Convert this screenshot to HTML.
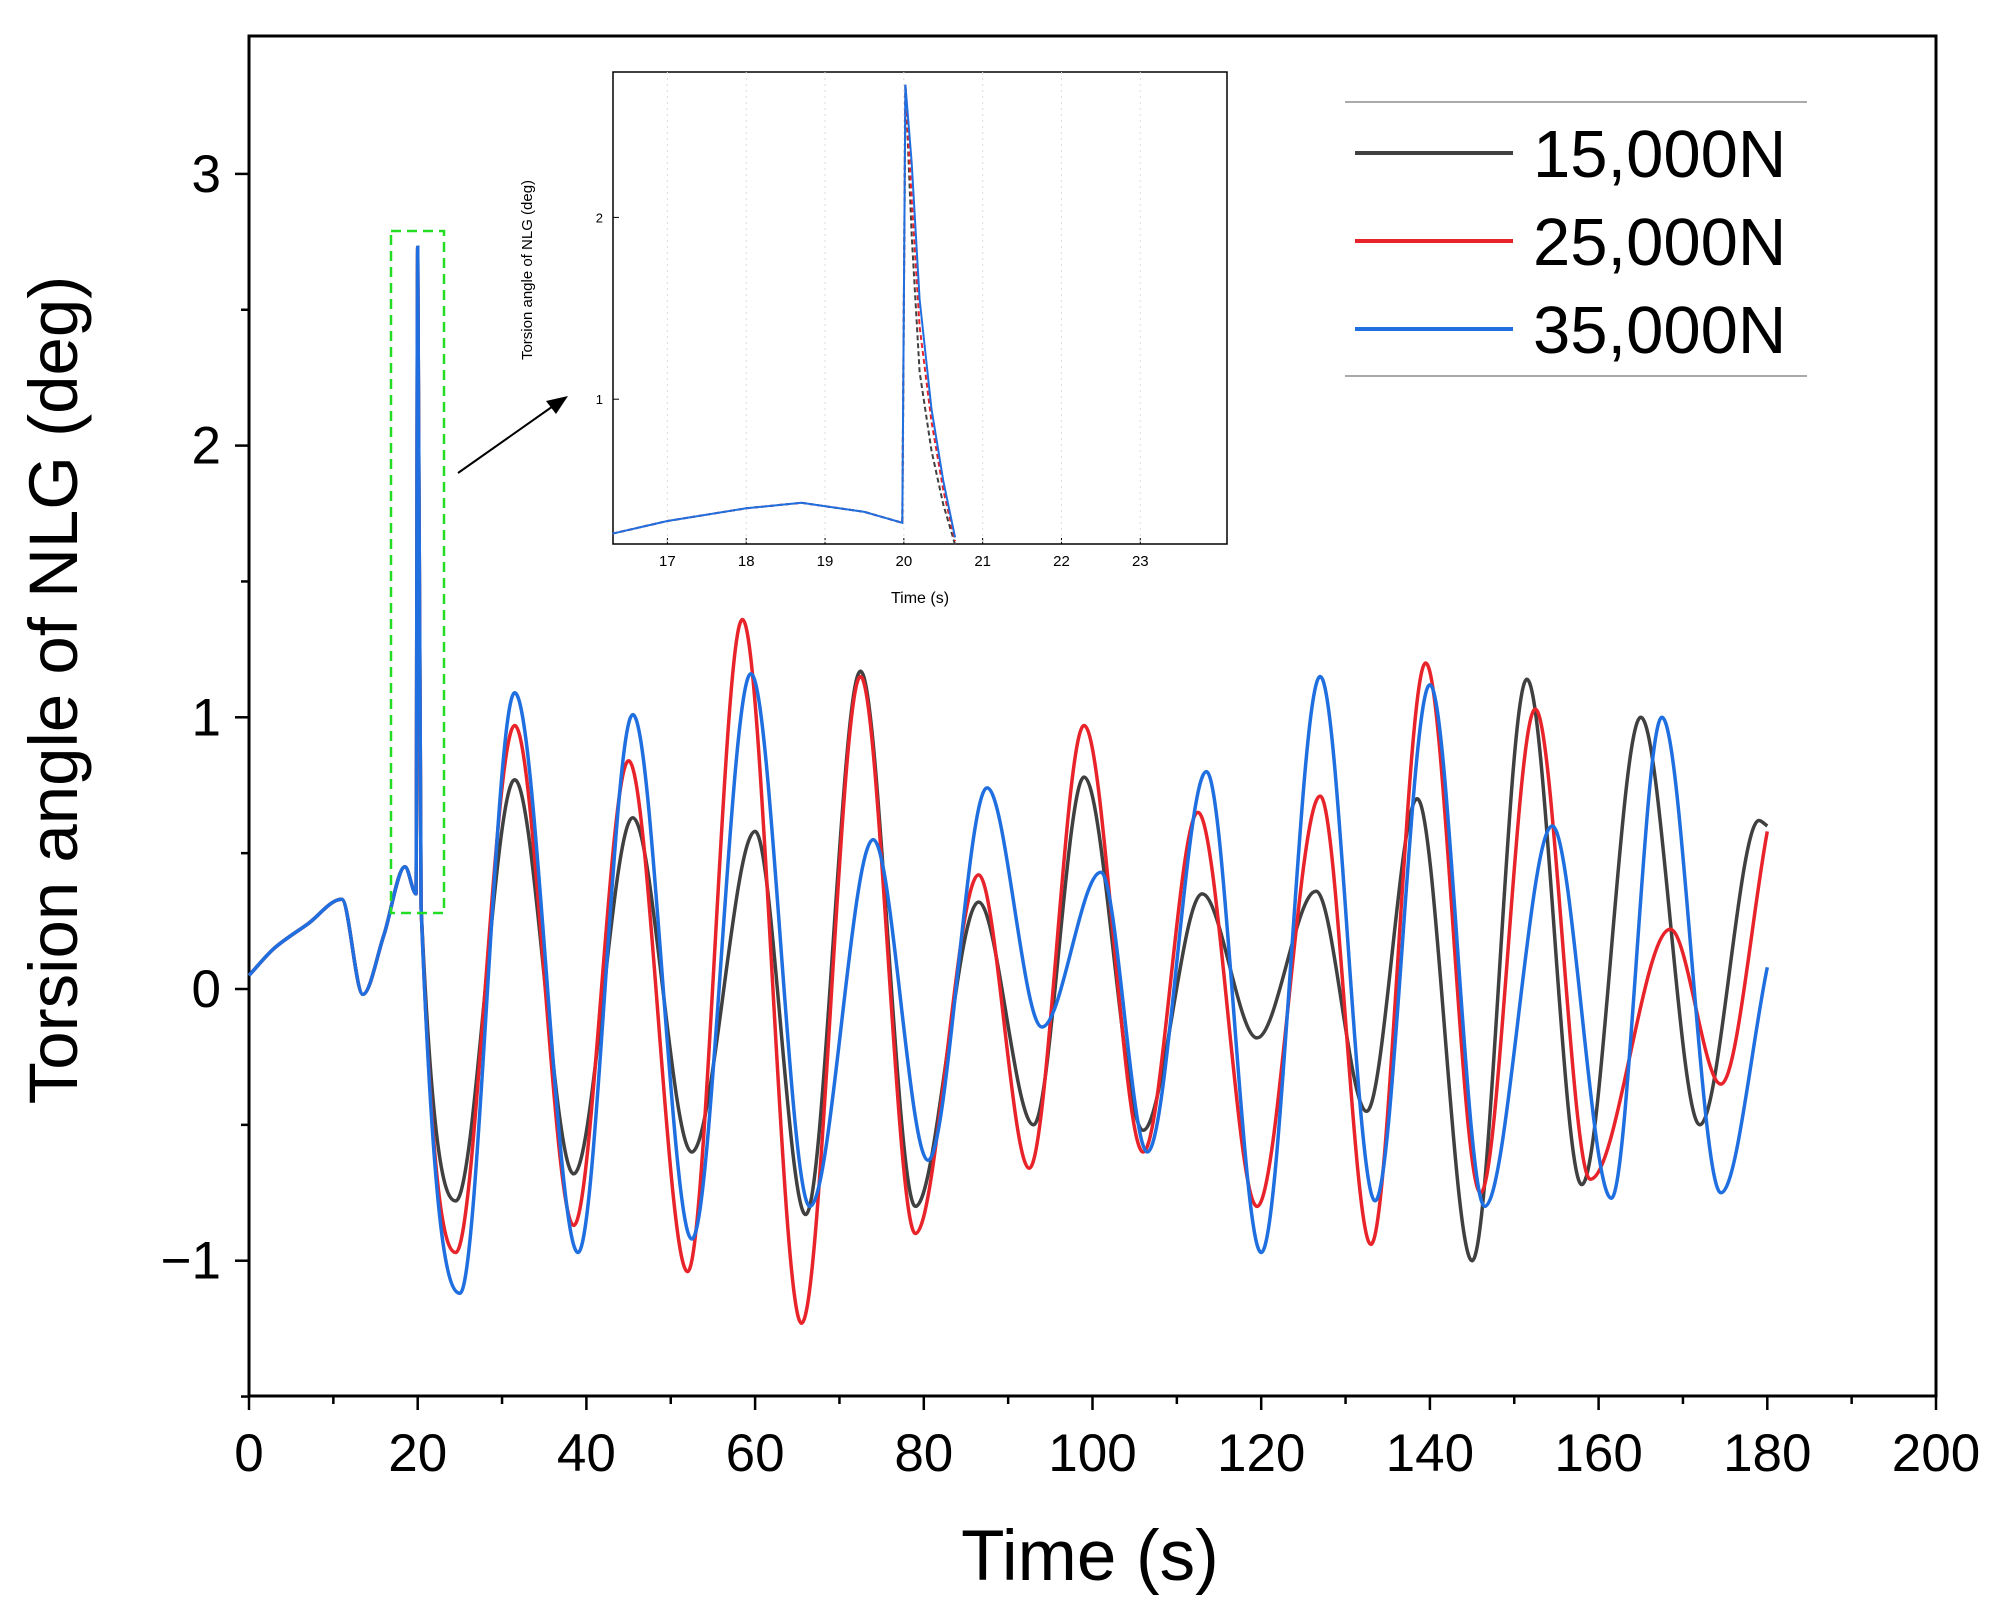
<!DOCTYPE html>
<html><head><meta charset="utf-8">
<style>html,body{margin:0;padding:0;background:#fff}svg{display:block}text{font-family:"Liberation Sans",Arial,sans-serif}</style>
</head><body>
<svg id="chart" width="1993" height="1617" viewBox="0 0 1993 1617" xmlns="http://www.w3.org/2000/svg">
<g id="main"></g>
<g id="inset"></g>
</svg>
<script>
// ---- data ----
const seriesNames = ["15,000N", "25,000N", "35,000N"];
const seriesColors = ["#404040", "#e8242a", "#1f6fe0"];
const commonT = [0, 3, 7, 11, 13.5, 16, 18.5, 19.8, 20, 20.4];
const commonV = [0.05, 0.15, 0.24, 0.33, -0.02, 0.2, 0.45, 0.35, 2.73, 0.3];
const blackT = [24.5,31.5,38.5,45.5,52.5,60,66,72.5,79,86.5,93,99,106,113,119.5,126.5,132.5,138.5,145,151.5,158,165,172,179,180];
const blackV = [-0.78,0.77,-0.68,0.63,-0.6,0.58,-0.83,1.17,-0.8,0.32,-0.5,0.78,-0.52,0.35,-0.18,0.36,-0.45,0.7,-1.0,1.14,-0.72,1.0,-0.5,0.62,0.6];
const redT = [24.5,31.5,38.5,45,52,58.5,65.5,72.5,79,86.5,92.5,99,106,112.5,119.5,127,133,139.5,146,152.5,159,168.5,174.5,180];
const redV = [-0.97,0.97,-0.87,0.84,-1.04,1.36,-1.23,1.15,-0.9,0.42,-0.66,0.97,-0.6,0.65,-0.8,0.71,-0.94,1.2,-0.75,1.03,-0.7,0.22,-0.35,0.58];
const blueT = [25,31.5,39,45.5,52.5,59.5,66.5,74,80.5,87.5,94,101,106.5,113.5,120,127,133.5,140,146.5,154.5,161.5,167.5,174.5,180];
const blueV = [-1.12,1.09,-0.97,1.01,-0.92,1.16,-0.8,0.55,-0.63,0.74,-0.14,0.43,-0.6,0.8,-0.97,1.15,-0.78,1.12,-0.8,0.6,-0.77,1.0,-0.75,0.08];
const xTicks = [0,20,40,60,80,100,120,140,160,180,200];
const yTicks = [-1,0,1,2,3];
const insetBaseT = [16.3,17,18,18.7,19.5,19.98,20.02];
const insetBaseV = [0.26,0.33,0.4,0.43,0.38,0.32,2.73];
const insetDecayT = [20.1,20.2,20.35,20.5,20.65];
const insetDecayBlack = [1.9,1.15,0.72,0.42,0.2];
const insetDecayRed = [2.1,1.4,0.88,0.5,0.22];
const insetDecayBlue = [2.3,1.55,0.95,0.55,0.24];
const insetXTicks = [17,18,19,20,21,22,23];
const insetYTicks = [1,2];

const NS="http://www.w3.org/2000/svg";
function mk(tag, parent, attrs, txt){const e=document.createElementNS(NS,tag);for(const k in attrs)e.setAttribute(k,attrs[k]);if(txt!==undefined)e.textContent=txt;parent.appendChild(e);return e;}

function monoPath(xs, ys){
  const n=xs.length; if(n<2) return "";
  const d=[],m=new Array(n);
  for(let i=0;i<n-1;i++) d.push((ys[i+1]-ys[i])/(xs[i+1]-xs[i]));
  m[0]=d[0]; m[n-1]=d[n-2];
  for(let i=1;i<n-1;i++){ if(d[i-1]*d[i]<=0) m[i]=0; else { const w1=2*(xs[i+1]-xs[i])+(xs[i]-xs[i-1]), w2=(xs[i+1]-xs[i])+2*(xs[i]-xs[i-1]); m[i]=(w1+w2)/(w1/d[i-1]+w2/d[i]); } }
  let p="M"+xs[0].toFixed(1)+","+ys[0].toFixed(1);
  for(let i=0;i<n-1;i++){const h=(xs[i+1]-xs[i])/3;
    p+=" C"+(xs[i]+h).toFixed(1)+","+(ys[i]+m[i]*h).toFixed(1)+" "+(xs[i+1]-h).toFixed(1)+","+(ys[i+1]-m[i+1]*h).toFixed(1)+" "+xs[i+1].toFixed(1)+","+ys[i+1].toFixed(1);}
  return p;
}

// ---- main plot ----
const L=249,R=1936,T=36,B=1396;
const xS=t=>L+(t-0)/200*(R-L);
const yS=v=>989-v*271.7;
const g=document.getElementById("main");
const frame=mk("rect",g,{x:L,y:T,width:R-L,height:B-T,fill:"none",stroke:"#000","stroke-width":3});


for(let t=0;t<=200;t+=10){
  const tk=mk("line",g,{x1:xS(t),x2:xS(t),y1:B,y2:B+(t%20===0?14:8),stroke:"#000","stroke-width":2.5});
  
  
}
xTicks.forEach(t=>{
  const tl=mk("text",g,{x:xS(t),y:1471,"font-size":53,"text-anchor":"middle"},String(t));
  
  
});
for(let v=-1.5;v<=3.4;v+=0.5){
  const tk=mk("line",g,{x1:L-(Math.abs(v%1)<1e-6?14:8),x2:L,y1:yS(v),y2:yS(v),stroke:"#000","stroke-width":2.5});
  
  
}
yTicks.forEach(v=>{
  const tl=mk("text",g,{x:221,y:yS(v)+18,"font-size":53,"text-anchor":"end"},v<0?"\u22121":String(v));
  
  
});
const xt=mk("text",g,{x:1090,y:1580,"font-size":71,"text-anchor":"middle"},"Time (s)");


const yt=mk("text",g,{x:0,y:0,"font-size":69,"text-anchor":"middle",transform:"translate(77,690) rotate(-90)"},"Torsion angle of NLG (deg)");



const allT=[blackT,redT,blueT], allV=[blackV,redV,blueV];
for(let s=0;s<3;s++){
  const ts=commonT.concat(allT[s]), vs=commonV.concat(allV[s]);
  const ln=mk("path",g,{d:monoPath(ts.map(xS),vs.map(yS)),fill:"none",stroke:seriesColors[s],"stroke-width":3.5});
  
  
}
const zr=mk("rect",g,{x:391,y:231,width:53,height:682,fill:"none",stroke:"#22dd22","stroke-width":2.5,"stroke-dasharray":"10,6"});


const ar=mk("line",g,{x1:458,y1:473,x2:556,y2:404,stroke:"#000","stroke-width":2});


const ah=mk("polygon",g,{points:"568,396 546,401 556,414",fill:"#000"});



// legend
const lg=mk("g",g,{});


mk("line",lg,{x1:1345,x2:1807,y1:102,y2:102,stroke:"#aaa","stroke-width":2});
mk("line",lg,{x1:1345,x2:1807,y1:376,y2:376,stroke:"#aaa","stroke-width":2});
seriesNames.forEach((n,i)=>{
  const y=153+i*88;
  const le=mk("line",lg,{x1:1355,x2:1513,y1:y,y2:y,stroke:seriesColors[i],"stroke-width":4});
  
  
  const lt=mk("text",lg,{x:1533,y:y+24,"font-size":67},n);
  
  
});

// ---- inset ----
const iL=613,iR=1227,iT=72,iB=544;
const ixS=t=>iL+(t-16.31)/(24.1-16.31)*(iR-iL);
const iyS=v=>581-v*181.8;
const gi=document.getElementById("inset");
const ib=mk("rect",gi,{x:iL,y:iT,width:iR-iL,height:iB-iT,fill:"#fff",stroke:"#000","stroke-width":1.5});


insetXTicks.forEach(t=>{
  mk("line",gi,{x1:ixS(t),x2:ixS(t),y1:iB,y2:iB-6,stroke:"#000","stroke-width":1});
  mk("line",gi,{x1:ixS(t),x2:ixS(t),y1:iT,y2:iB,stroke:"#ddd","stroke-width":1,"stroke-dasharray":"2,4"});
  const tl=mk("text",gi,{x:ixS(t),y:iB+22,"font-size":15,"text-anchor":"middle"},String(t));
  
  
});
insetYTicks.forEach(v=>{
  mk("line",gi,{x1:iL,x2:iL+6,y1:iyS(v),y2:iyS(v),stroke:"#000","stroke-width":1});
  const tl=mk("text",gi,{x:iL-10,y:iyS(v)+5,"font-size":13,"text-anchor":"end"},String(v));
  
  
});
const ixt=mk("text",gi,{x:920,y:603,"font-size":16,"text-anchor":"middle"},"Time (s)");


const iyt=mk("text",gi,{x:0,y:0,"font-size":15,"text-anchor":"middle",transform:"translate(532,270) rotate(-90)"},"Torsion angle of NLG (deg)");


const decays=[insetDecayBlack,insetDecayRed,insetDecayBlue];
for(let s=0;s<3;s++){
  const ts=insetBaseT.concat(insetDecayT), vs=insetBaseV.concat(decays[s]);
  const pts=ts.map((t,i)=>ixS(t).toFixed(1)+","+iyS(vs[i]).toFixed(1)).join(" ");
  const il=mk("polyline",gi,{points:pts,fill:"none",stroke:seriesColors[s],"stroke-width":2,"stroke-dasharray":s<2?"5,3":"none"});
  
  
}
</script>
</body></html>
